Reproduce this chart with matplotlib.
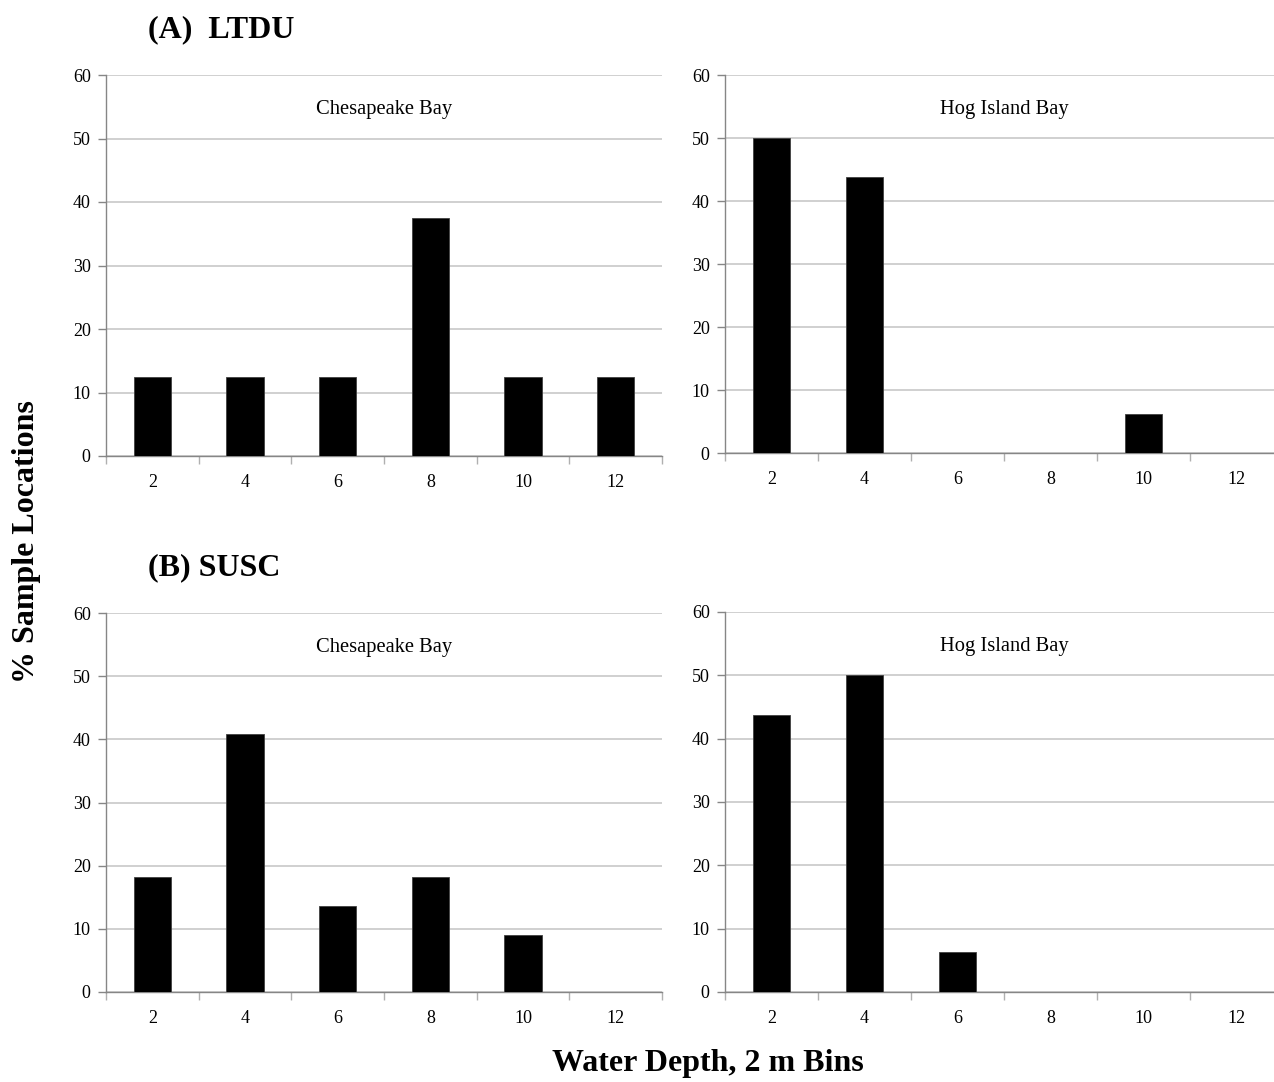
import matplotlib
matplotlib.use("Agg")
import matplotlib.pyplot as plt
import numpy as np

plt.rcParams['font.family'] = ['Liberation Serif', 'DejaVu Serif']

depth_bins = ["2", "4", "6", "8", "10", "12"]
ltdu_chesapeake = [12.5, 12.5, 12.5, 37.5, 12.5, 12.5]
ltdu_hog = [50.0, 43.75, 0, 0, 6.25, 0]
susc_chesapeake = [18.18, 40.91, 13.64, 18.18, 9.09, 0]
susc_hog = [43.75, 50.0, 6.25, 0, 0, 0]

W, H = 1274, 1082
fig = plt.figure(figsize=(W / 100, H / 100), dpi=100)

def px_axes(l, t, r, b):
    return fig.add_axes([l / W, 1 - b / H, (r - l) / W, (b - t) / H])

panels = [
    (px_axes(106, 75, 662, 456), ltdu_chesapeake, "Chesapeake Bay"),
    (px_axes(725, 75, 1283, 453), ltdu_hog, "Hog Island Bay"),
    (px_axes(106, 613, 662, 992), susc_chesapeake, "Chesapeake Bay"),
    (px_axes(725, 612, 1283, 992), susc_hog, "Hog Island Bay"),
]

gray = "#868686"
for ax, vals, title in panels:
    x = np.arange(len(depth_bins))
    ax.bar(x, vals, width=0.4, color="black", edgecolor="#404040", linewidth=0.6, zorder=3)
    ax.set_xlim(-0.5, len(depth_bins) - 0.5)
    ax.set_ylim(0, 60)
    ax.set_yticks(np.arange(0, 61, 10))
    ax.yaxis.grid(True, color="#c8c8c8", linewidth=1.2, zorder=0)
    ax.set_xticks(x)
    ax.set_xticklabels(depth_bins)
    ax.set_xticks(np.arange(-0.5, len(depth_bins), 1.0), minor=True)
    ax.tick_params(axis="x", which="major", length=0, labelsize=13, pad=13)
    ax.tick_params(axis="x", which="minor", length=6, color="#b0b0b0", width=1.0, direction="out")
    ax.tick_params(axis="y", which="major", length=6, color=gray, width=1.0, labelsize=13, pad=5)
    for s in ("top", "right"):
        ax.spines[s].set_visible(False)
    ax.spines["left"].set_color(gray)
    ax.spines["bottom"].set_color(gray)
    ax.spines["left"].set_linewidth(1.0)
    ax.spines["bottom"].set_linewidth(1.0)
    ax.text((384 - 106) / 556 if "Ches" in title else (1004 - 725) / 558, 0.91, title,
            transform=ax.transAxes, ha="center", va="center", fontsize=14.8)

fig.text(148 / W, 1 - 30 / H, "(A)  LTDU", fontsize=23, fontweight="bold", ha="left", va="center")
fig.text(148 / W, 1 - 568 / H, "(B) SUSC", fontsize=23, fontweight="bold", ha="left", va="center")
fig.text(27 / W, 1 - 542 / H, "% Sample Locations", fontsize=23, fontweight="bold",
         rotation=90, ha="center", va="center")
fig.text(708 / W, 1 - 1064 / H, "Water Depth, 2 m Bins", fontsize=23, fontweight="bold",
         ha="center", va="center")

fig.savefig("out.png", dpi=100, facecolor="white")
